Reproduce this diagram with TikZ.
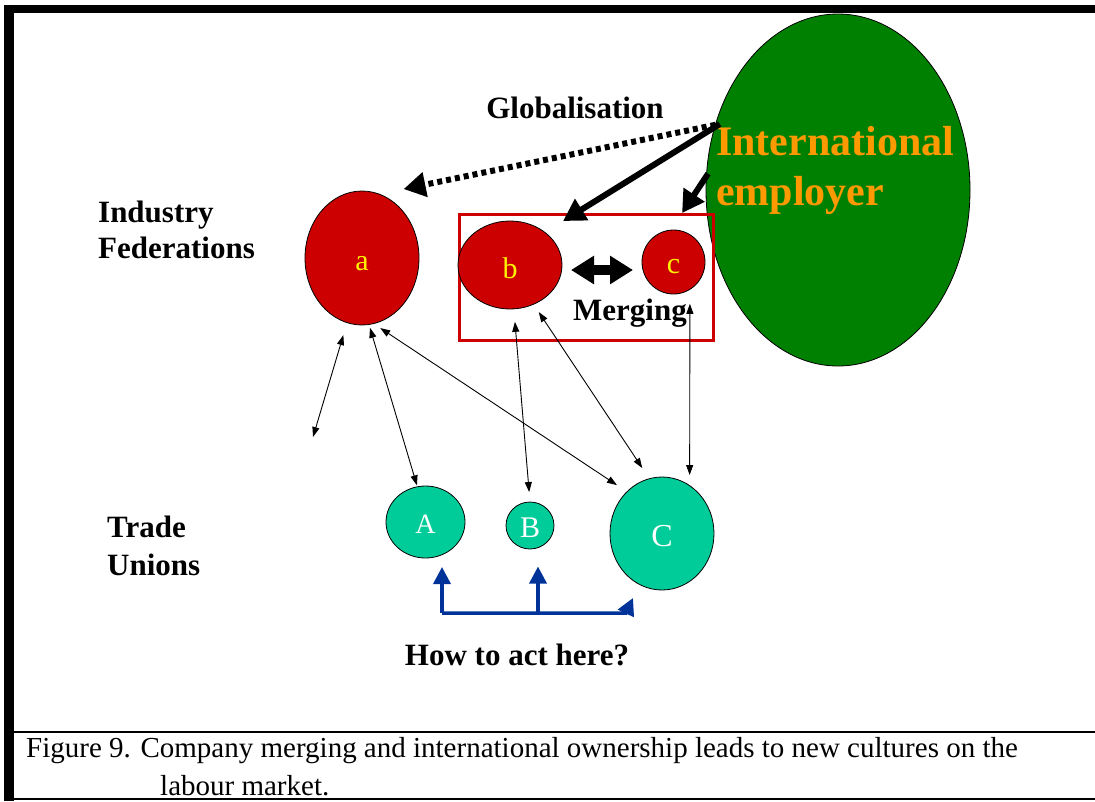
\documentclass[tikz,border=0pt]{standalone}
\usepackage{fontspec}
\setmainfont{Liberation Serif}
\usetikzlibrary{shapes.geometric,arrows.meta,calc}

\definecolor{fedred}{HTML}{CC0000}
\definecolor{empgreen}{HTML}{008000}
\definecolor{emporange}{HTML}{FF9900}
\definecolor{unionteal}{HTML}{00CC99}
\definecolor{linkblue}{HTML}{003399}

% letter set with its baseline a given distance below the node centre
\newcommand{\onbase}[2]{\raisebox{-#1}[0pt][0pt]{#2}}

\begin{document}
\begin{tikzpicture}[x=1pt,y=-1pt,
  oval/.style={ellipse, draw=black, line width=0.8pt, inner sep=0pt, outer sep=0pt},
  fed/.style={oval, fill=fedred, text=yellow, font=\fontsize{30}{30}\selectfont},
  union/.style={oval, fill=unionteal, text=white, font=\fontsize{29}{29}\selectfont},
  heading/.style={font=\fontsize{31}{36}\selectfont\bfseries, inner sep=0pt, anchor=base west},
  emptext/.style={font=\fontsize{42}{50}\selectfont\bfseries, text=emporange, inner sep=0pt, anchor=base west},
  captext/.style={font=\fontsize{29}{34}\selectfont, inner sep=0pt, anchor=base west},
  thinlink/.style={line width=0.9pt, {Triangle[length=10pt,width=7pt]}-{Triangle[length=10pt,width=7pt]}},
  push/.style={line width=6pt, -{Triangle[length=22pt,width=24pt]}},
  globalise/.style={line width=6pt, dash pattern=on 5pt off 4pt, -{Triangle[length=22pt,width=24pt]}},
  mergearrow/.style={line width=10pt, {Triangle[length=23pt,width=27pt]}-{Triangle[length=23pt,width=27pt]}},
  bluelink/.style={draw=linkblue, line width=3.5pt},
  bluetip/.style={-{Triangle[length=17pt,width=17pt]}}
]
\useasboundingbox (0,0) rectangle (1095,801);

% frame
\fill[black] (4,5) rectangle (1095,13);
\fill[black] (4,5) rectangle (14,801);
\draw[line width=2.5pt] (14,732) -- (1095,732);
\draw[line width=1.5pt] (14,799) -- (1095,799);

% international employer
\node[oval, fill=empgreen, minimum width=264pt, minimum height=352pt] (emp) at (838,190) {};
\node[emptext] (intl1) at (716,155) {International};
\node[emptext] (intl2) at (716,205) {employer};

% merged federations box
\node[draw=fedred, line width=3pt, rectangle, inner sep=0pt, outer sep=0pt,
      minimum width=254.3pt, minimum height=125.7pt] (merge) at (586.2,277.2) {};

% federations
\node[fed, minimum width=114pt, minimum height=134pt] (a) at (362,258) {\onbase{12pt}{a}};
\node[fed, minimum width=104pt, minimum height=88pt] (b) at (510,265) {\onbase{13pt}{b}};
\node[fed, minimum width=63pt, minimum height=64pt] (c) at (673.5,262) {\onbase{11pt}{c}};

% trade unions
\node[union, minimum width=79pt, minimum height=72pt, font=\fontsize{28}{28}\selectfont] (A) at (425.5,522) {\onbase{11pt}{A}};
\node[union, minimum width=48pt, minimum height=47pt, font=\fontsize{30}{30}\selectfont] (B) at (530,525.5) {\onbase{12pt}{B}};
\node[union, minimum width=104pt, minimum height=113pt, font=\fontsize{32}{32}\selectfont] (C) at (662,533.5) {\onbase{13pt}{C}};

% headings
\node[heading, anchor=base] (glob) at (575,118) {Globalisation};
\node[heading] (ind1) at (98,222) {Industry};
\node[heading] (ind2) at (98,258) {Federations};
\node[heading] (tu1) at (107,537) {Trade};
\node[heading] (tu2) at (107,575) {Unions};
\node[heading] (mrg) at (573,320) {Merging};
\node[heading, anchor=base] (act) at (517,665) {How to act here?};

% employer influence
\draw[globalise, shorten >=25pt] (emp.152) -- (a.75.5);
\draw[push, shorten <=-6pt] (emp.153.6) -- ($(merge.north)+(-23.2,6.7)$);
\draw[push, shorten <=-3pt] (emp.174.6) -- ($(merge.north east)+(-31.3,-1.3)$);
\draw[mergearrow] ($(b.east)+(9,5)$) -- ($(c.west)+(-9,8)$);

% federation -- union links
\coordinate (loose) at (313,437);
\draw[thinlink, shorten >=13pt] (loose) -- (a.-103);
\draw[thinlink, shorten <=3.5pt, shorten >=1.5pt] (a.-84) -- (A.103);
\draw[thinlink, shorten <=8pt, shorten >=12pt] (a.-80) -- (C.130);
\draw[thinlink, shorten <=13pt, shorten >=10pt] (b.-85) -- (B.90);
\draw[thinlink, shorten <=9.4pt, shorten >=12.8pt] (b.-59) -- (C.103);
\draw[thinlink, shorten <=14.5pt, shorten >=10.6pt] (c.-59) -- (C.60);

% cooperation between unions
\coordinate (corner) at (442,613);
\coordinate (tipA) at ($(A.south)+(16.5,9)$);
\coordinate (tipB) at ($(B.south)+(8,17.5)$);
\draw[bluelink, bluetip] (corner) -- (tipA);
\draw[bluelink, bluetip] (tipB |- corner) -- (tipB);
\draw[bluelink, bluetip] (corner) -- ($(C.center)+(-36,79.5)$) -- ($(C.center)+(-29,64.5)$);

% caption
\node[captext] (cap1) at (26,757) {Figure 9. Company merging and international ownership leads to new cultures on the};
\node[captext] (cap2) at (160,795) {labour market.};
\end{tikzpicture}
\end{document}
